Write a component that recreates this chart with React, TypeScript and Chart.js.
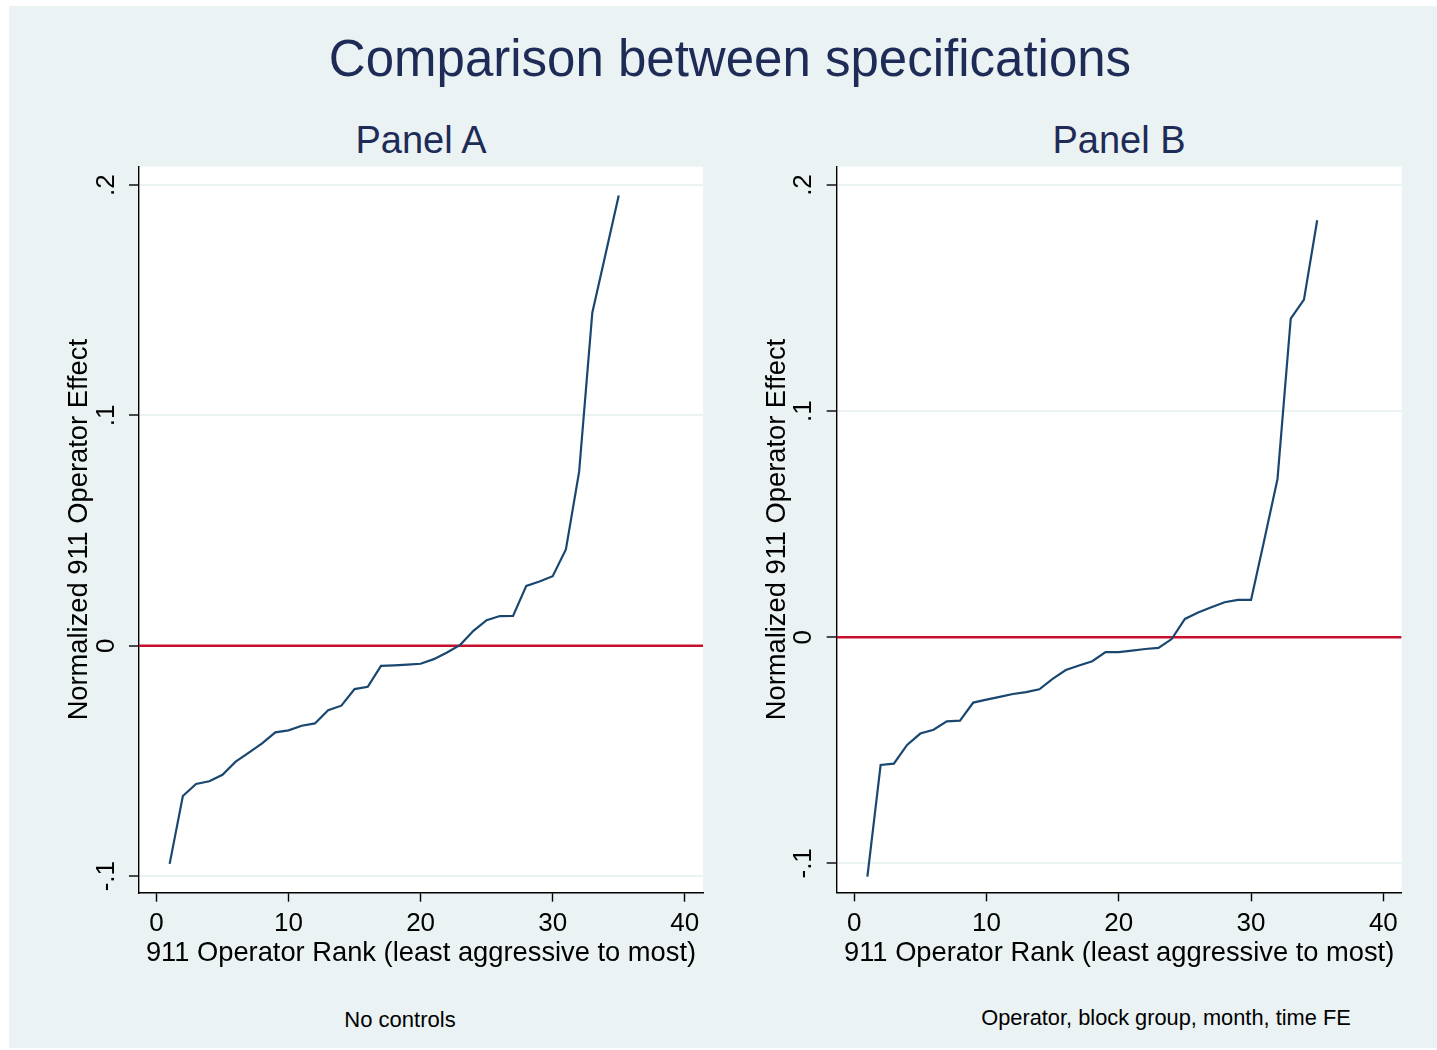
import React, { useEffect, useRef } from 'react';
import { Chart, registerables } from 'chart.js';

Chart.register(...registerables);

// ---------- data ----------
const ranks = [1, 2, 3, 4, 5, 6, 7, 8, 9, 10, 11, 12, 13, 14, 15, 16, 17, 18, 19, 20, 21, 22, 23, 24, 25, 26, 27, 28, 29, 30, 31, 32, 33, 34, 35];

const panelAEffects = [
  -0.0947, -0.0652, -0.0600, -0.0588, -0.0560, -0.0503, -0.0464, -0.0424, -0.0376, -0.0367,
  -0.0347, -0.0337, -0.0280, -0.0260, -0.0188, -0.0178, -0.0087, -0.0085, -0.0082, -0.0078,
  -0.0058, -0.0029, 0.0004, 0.0065, 0.0111, 0.0129, 0.0130, 0.0260, 0.0279, 0.0302,
  0.0418, 0.0755, 0.1446, 0.1700, 0.1955,
];

const panelBEffects = [
  -0.1059, -0.0565, -0.0559, -0.0476, -0.0426, -0.0409, -0.0372, -0.0369, -0.0289, -0.0276,
  -0.0264, -0.0251, -0.0243, -0.0230, -0.0184, -0.0145, -0.0125, -0.0106, -0.0066, -0.0066,
  -0.0059, -0.0052, -0.0047, -0.0008, 0.0081, 0.0109, 0.0133, 0.0155, 0.0165, 0.0165,
  0.0430, 0.0700, 0.1409, 0.1493, 0.1844,
];

const xTickValues = [0, 10, 20, 30, 40];
const xTickLabels = ['0', '10', '20', '30', '40'];
const yTickValues = [-0.1, 0, 0.1, 0.2];
const yTickLabels = ['-.1', '0', '.1', '.2'];

const mainTitle = 'Comparison between specifications';
const panelTitles = ['Panel A', 'Panel B'];
const panelNotes = ['No controls', 'Operator, block group, month, time FE'];
const xAxisTitle = '911 Operator Rank (least aggressive to most)';
const yAxisTitle = 'Normalized 911 Operator Effect';
const referenceValue = 0;

// ---------- style ----------
const FONT = "'Liberation Sans', Arial, Helvetica, sans-serif";
const BG = '#EAF2F3';
const NAVY = '#1A476F';
const RED = '#C8102E';
const TITLE_COLOR = '#1E2B57';
const X_MIN = -1.32;
const X_MAX = 41.38;

Chart.defaults.font.family = FONT;

const plotBackground = {
  id: 'plotBackground',
  beforeDraw(chart: any) {
    const { ctx, chartArea } = chart;
    if (!chartArea) return;
    ctx.save();
    ctx.fillStyle = '#ffffff';
    ctx.fillRect(chartArea.left, chartArea.top, chartArea.right - chartArea.left, chartArea.bottom - chartArea.top);
    ctx.restore();
  },
};

interface PanelProps {
  values: number[];
  yMin: number;
  yMax: number;
  left: number;
  yAxisWidth: number;
  padRight: number;
  padBottom: number;
}

const CANVAS_TOP = 150;
const CANVAS_W = 680;
const CANVAS_H = 830;

function Panel({ values, yMin, yMax, left, yAxisWidth, padRight, padBottom }: PanelProps) {
  const ref = useRef<HTMLCanvasElement | null>(null);

  useEffect(() => {
    if (!ref.current) return;
    const chart = new Chart(ref.current, {
      type: 'line',
      data: {
        datasets: [
          {
            data: [
              { x: X_MIN, y: referenceValue },
              { x: X_MAX, y: referenceValue },
            ],
            borderColor: RED,
            borderWidth: 2.5,
            pointRadius: 0,
            order: 2,
          },
          {
            data: ranks.map((r, i) => ({ x: r, y: values[i] })),
            borderColor: NAVY,
            borderWidth: 2.2,
            pointRadius: 0,
            tension: 0,
            order: 1,
          },
        ],
      },
      options: {
        animation: false,
        responsive: false,
        maintainAspectRatio: false,
        devicePixelRatio: 1,
        events: [],
        layout: {
          autoPadding: false,
          padding: { left: 0, top: 16.7, right: padRight, bottom: padBottom },
        },
        plugins: {
          legend: { display: false },
          tooltip: { enabled: false },
          title: { display: false },
        },
        scales: {
          x: {
            type: 'linear',
            min: X_MIN,
            max: X_MAX,
            afterBuildTicks: (scale: any) => {
              scale.ticks = xTickValues.map((v) => ({ value: v }));
            },
            afterFit: (scale: any) => {
              scale.height = 80;
              scale.paddingLeft = 0;
              scale.paddingRight = 0;
            },
            ticks: {
              autoSkip: false,
              maxRotation: 0,
              minRotation: 0,
              padding: 6.8,
              color: '#000',
              font: { family: FONT, size: 26 },
              callback: (_v: any, i: number) => xTickLabels[i],
            },
            grid: {
              drawOnChartArea: false,
              drawTicks: true,
              tickLength: 9,
              tickColor: '#000',
              tickWidth: 1.4,
            },
            border: { display: true, color: '#000', width: 1.4 },
            title: {
              display: true,
              text: xAxisTitle,
              color: '#000',
              font: { family: FONT, size: 27.3 },
              padding: { top: 0, bottom: 2.5 },
            },
          },
          y: {
            type: 'linear',
            min: yMin,
            max: yMax,
            afterBuildTicks: (scale: any) => {
              scale.ticks = yTickValues.map((v) => ({ value: v }));
            },
            afterFit: (scale: any) => {
              scale.width = yAxisWidth;
              scale.paddingTop = 0;
              scale.paddingBottom = 0;
            },
            ticks: {
              autoSkip: false,
              minRotation: 90,
              maxRotation: 90,
              crossAlign: 'center',
              padding: 7.4,
              color: '#000',
              font: { family: FONT, size: 26 },
              callback: (_v: any, i: number) => yTickLabels[i],
            },
            grid: {
              drawOnChartArea: true,
              color: BG,
              lineWidth: 2,
              drawTicks: true,
              tickLength: 10,
              tickColor: '#000',
              tickWidth: 1.4,
            },
            border: { display: true, color: '#000', width: 1.4 },
            title: {
              display: true,
              text: yAxisTitle,
              color: '#000',
              font: { family: FONT, size: 27.3 },
              padding: { top: 13.5, bottom: 0 },
            },
          },
        },
      } as any,
      plugins: [plotBackground],
    });
    return () => chart.destroy();
  }, []);

  return (
    <canvas
      ref={ref}
      width={CANVAS_W}
      height={CANVAS_H}
      style={{ position: 'absolute', left, top: CANVAS_TOP, width: CANVAS_W, height: CANVAS_H }}
    />
  );
}

function TextLine({ text, cx, top, size, color }: { text: string; cx: number; top: number; size: number; color: string }) {
  return (
    <div
      style={{
        position: 'absolute',
        left: cx - 500,
        top,
        width: 1000,
        textAlign: 'center',
        fontFamily: FONT,
        fontSize: size,
        lineHeight: `${size}px`,
        color,
        whiteSpace: 'nowrap',
      }}
    >
      {text}
    </div>
  );
}

export default function App() {
  return (
    <div style={{ position: 'absolute', left: 0, top: 0, width: 1437, height: 1050, background: '#ffffff', overflow: 'hidden' }}>
      <div style={{ position: 'absolute', left: 9, top: 6, width: 1428, height: 1042, background: BG }} />
      <TextLine text={mainTitle} cx={730} top={33} size={51} color={TITLE_COLOR} />
      <TextLine text={panelTitles[0]} cx={421} top={121} size={38} color={TITLE_COLOR} />
      <TextLine text={panelTitles[1]} cx={1119} top={121} size={38} color={TITLE_COLOR} />
      <Panel values={panelAEffects} yMin={-0.1072} yMax={0.208} left={50} yAxisWidth={89} padRight={27} padBottom={7.3} />
      <Panel values={panelBEffects} yMin={-0.1128} yMax={0.2081} left={748} yAxisWidth={88.7} padRight={26.4} padBottom={7.7} />
      <TextLine text={panelNotes[0]} cx={400} top={1008.5} size={22} color="#000" />
      <TextLine text={panelNotes[1]} cx={1166} top={1006.5} size={21.8} color="#000" />
    </div>
  );
}
